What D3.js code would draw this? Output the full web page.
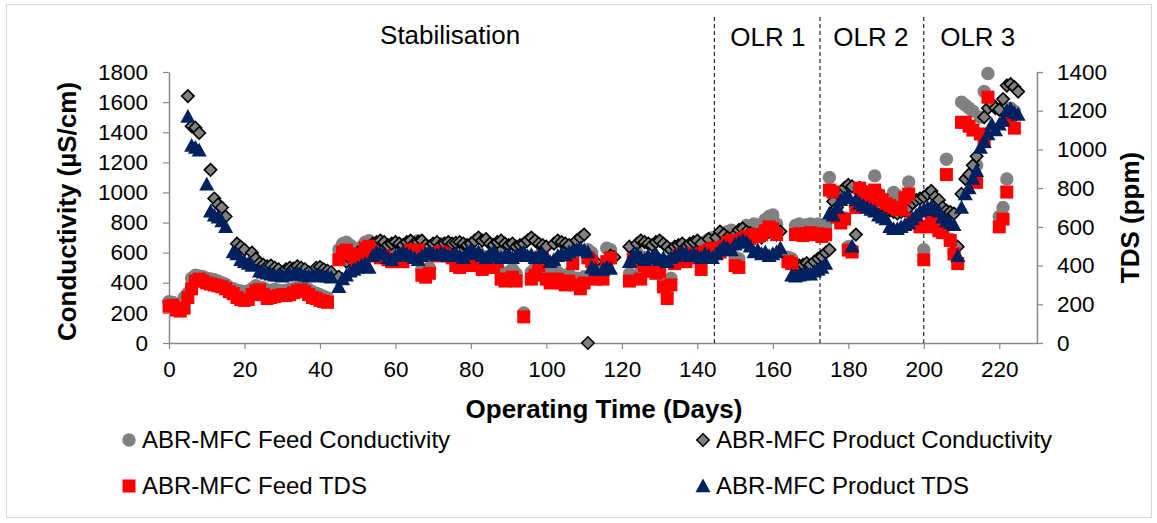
<!DOCTYPE html>
<html>
<head>
<meta charset="utf-8">
<script src="https://cdn.jsdelivr.net/npm/d3@7"></script>
<style>
  html, body { margin: 0; padding: 0; background: #fff; }
  svg { display: block; font-family: "Liberation Sans", Arial, sans-serif; }
</style>
</head>
<body>
<svg id="chart" width="1157" height="523"></svg>
<script>
// ABR-MFC monitoring: conductivity (µS/cm, left axis) and TDS (ppm, right axis) vs operating day

const xTicks = [0, 20, 40, 60, 80, 100, 120, 140, 160, 180, 200, 220];
const condTicks = [0, 200, 400, 600, 800, 1000, 1200, 1400, 1600, 1800];
const tdsTicks = [0, 200, 400, 600, 800, 1000, 1200, 1400];

const phaseBounds = [144.5, 172.5, 200];
const phaseLabels = [
  { text: "Stabilisation", day: 74.5 },
  { text: "OLR 1", day: 158.7 },
  { text: "OLR 2", day: 186 },
  { text: "OLR 3", day: 214.3 }
];

const seriesNames = [
  "ABR-MFC Feed Conductivity",
  "ABR-MFC Product Conductivity",
  "ABR-MFC Feed TDS",
  "ABR-MFC Product TDS"
];

// [day, µS/cm]
const feedConductivity = [
  [0,275],[1,270],[3,250],[4,300],[5,330],[6,430],[7,450],[8,445],[9,440],[10,430],[11,425],[12,420],[13,410],[14,400],[15,390],[16,370],[17,360],[18,350],[19,345],[20,340],[21,345],[22,360],[23,380],[24,370],[25,365],[26,340],[27,350],[28,355],[29,350],[30,345],[31,350],[32,355],[33,360],[34,370],[35,375],[36,365],[37,355],[38,340],[39,330],[40,320],[41,310],[42,300],
  [45,620],[46,660],[47,670],[48,650],[49,630],[50,600],[51,640],[52,670],[53,680],[54,650],[55,630],[56,620],[57,630],[58,610],[59,600],[60,610],[61,620],[62,600],[63,640],[64,670],[65,660],[66,680],[67,490],[68,470],[69,500],[70,650],[71,640],[72,660],[73,650],[74,640],[75,630],[76,570],[77,560],[78,580],[79,620],[80,570],[81,580],[82,600],[83,540],[84,570],[85,580],[86,560],[87,600],[88,470],[89,460],[90,470],[91,490],[92,460],[94,200],[96,470],[97,500],[98,570],[99,620],[100,470],[101,450],[102,460],[103,470],[104,450],[105,430],[106,460],[107,580],[108,430],[109,400],[110,440],[111,620],[112,600],[113,470],[114,490],[115,470],[116,630],[117,620],
  [122,460],[123,610],[124,600],[125,470],[126,570],[127,530],[128,540],[129,520],[130,530],[131,420],[132,340],[133,430],[134,590],[135,640],[136,650],[137,600],[138,630],[139,650],[140,640],[141,550],[142,670],[143,690],[144,700],[145,690],[146,680],[147,720],[148,740],[149,750],[150,570],[151,560],[152,760],[153,780],[154,770],[155,790],[156,780],[157,790],[158,820],[159,840],[160,850],[161,790],
  [164,570],[165,560],[166,780],[167,790],[168,780],[169,785],[170,790],[171,780],[172,790],[173,770],[174,780],[175,1100],[176,1010],[177,840],[178,800],[179,830],[180,640],[181,620],[182,900],[183,1030],[184,1010],[185,990],[186,910],[187,1110],[188,990],[189,960],[190,930],[191,920],[192,1000],[193,980],[194,900],[195,970],[196,1070],[197,830],[198,800],[199,780],[200,620],[201,780],[202,820],[203,840],[204,760],[205,740],[206,1220],[207,690],[208,600],[209,540],[210,1600],[211,1580],[212,1560],[213,1540],[214,1180],[215,1500],[216,1670],[217,1790],[220,840],[221,900],[222,1090],[223,1560],[224,1540]
];

// [day, µS/cm]
const productConductivity = [
  [5,1640],[6,1440],[7,1430],[8,1395],[11,1150],[12,960],[13,920],[14,900],[15,840],[18,660],[19,640],[20,620],[22,600],[23,560],[24,530],[25,520],[26,510],[27,515],[28,500],[29,490],[30,470],[31,490],[32,500],[33,495],[34,510],[35,500],[36,490],[37,470],[39,500],[40,505],[41,490],[42,480],[43,470],[45,440],
  [47,540],[48,560],[49,580],[50,600],[51,610],[52,630],[53,640],[54,660],[55,670],[56,680],[57,670],[58,650],[59,660],[60,670],[61,660],[62,650],[63,670],[64,680],[65,660],[66,670],[67,680],[68,650],[69,640],[70,660],[71,670],[72,650],[73,660],[74,670],[75,660],[76,665],[77,670],[78,660],[79,650],[80,660],[81,680],[82,700],[83,680],[84,690],[85,660],[86,650],[87,670],[88,680],[89,660],[90,650],[91,660],[92,640],[93,650],[94,660],[95,680],[96,700],[97,680],[98,660],[99,650],[100,640],[102,660],[103,680],[104,670],[105,660],[106,650],[108,680],[109,700],[110,720],[111,0],[112,560],[113,540],[117,580],[118,570],
  [122,640],[124,660],[125,680],[126,670],[127,660],[128,650],[129,670],[130,680],[131,660],[132,640],[133,620],[134,640],[135,650],[136,660],[137,640],[138,660],[139,670],[140,680],[141,660],[143,690],[145,700],[146,740],[147,720],[148,700],[150,720],[151,750],[152,760],[153,740],[154,730],[155,720],[156,710],[157,700],[158,720],[159,740],[160,730],[161,720],[162,740],
  [166,510],[167,515],[168,520],[169,530],[170,520],[171,540],[172,560],[173,575],[174,600],[175,620],[176,940],[177,900],[178,980],[179,1030],[180,1050],[181,1040],[182,720],[183,1030],[184,990],[185,960],[186,940],[187,930],[188,910],[189,900],[190,890],[191,880],[192,870],[193,860],[194,870],[195,880],[196,900],[197,930],[198,950],[199,960],[200,970],[201,990],[202,1010],[203,970],[204,950],[205,900],[206,880],[207,870],[208,860],[209,640],[210,990],[211,1090],[212,1120],[213,1180],[214,1240],[215,1380],[216,1500],[217,1560],[218,1590],[219,1560],[220,1550],[221,1620],[222,1710],[223,1720],[224,1700],[225,1670]
];

// [day, ppm]
const feedTDS = [
  [0,190],[1,195],[2,170],[3,165],[4,180],[5,235],[6,280],[7,320],[8,330],[9,320],[10,310],[11,305],[12,300],[13,295],[14,290],[15,280],[16,265],[17,255],[18,235],[19,225],[20,220],[21,225],[22,250],[23,270],[24,275],[25,250],[26,230],[27,235],[28,240],[29,245],[30,250],[31,245],[32,250],[33,260],[34,270],[35,275],[36,265],[37,250],[38,235],[39,230],[40,220],[41,215],[42,210],
  [45,430],[46,470],[47,480],[48,460],[49,440],[50,420],[51,460],[52,490],[53,500],[54,470],[55,450],[56,440],[57,450],[58,430],[59,420],[60,430],[61,440],[62,420],[63,460],[64,480],[65,470],[66,480],[67,350],[68,340],[69,360],[70,460],[71,450],[72,470],[73,460],[74,450],[75,440],[76,400],[77,390],[78,410],[79,440],[80,400],[81,410],[82,420],[83,380],[84,400],[85,410],[86,390],[87,420],[88,330],[89,320],[90,330],[91,340],[92,320],[94,135],[96,330],[97,350],[98,400],[99,440],[100,330],[101,310],[102,320],[103,330],[104,310],[105,300],[106,320],[107,410],[108,300],[109,280],[110,310],[111,440],[112,420],[113,330],[114,340],[115,330],[116,420],[117,440],
  [122,320],[123,430],[124,420],[125,330],[126,400],[127,370],[128,380],[129,360],[130,370],[131,290],[132,230],[133,300],[134,410],[135,450],[136,460],[137,420],[138,440],[139,460],[140,450],[141,380],[142,470],[143,480],[144,490],[145,480],[146,470],[147,500],[148,520],[149,530],[150,400],[151,390],[152,540],[153,550],[154,540],[155,560],[156,550],[157,560],[158,580],[159,600],[160,590],[161,560],
  [164,420],[165,410],[166,560],[167,565],[168,555],[169,560],[170,570],[171,560],[172,565],[173,550],[174,560],[175,790],[176,780],[177,650],[178,620],[179,640],[180,480],[181,470],[182,700],[183,800],[184,780],[185,760],[186,700],[187,790],[188,760],[189,740],[190,720],[191,710],[192,700],[193,690],[194,690],[195,750],[196,770],[197,640],[198,620],[199,600],[200,430],[201,600],[202,630],[203,650],[204,580],[205,570],[206,870],[207,530],[208,460],[209,410],[210,1140],[211,1140],[212,1120],[213,1100],[214,830],[215,1080],[216,1040],[217,1270],[220,600],[221,640],[222,780],[223,1150],[224,1110]
];

// [day, ppm]
const productTDS = [
  [5,1170],[6,1020],[7,1010],[8,995],[10,820],[11,680],[12,660],[13,650],[14,630],[15,600],[17,470],[18,460],[19,430],[20,420],[21,410],[22,400],[24,370],[25,365],[26,360],[27,355],[28,350],[29,350],[30,345],[31,350],[32,355],[33,355],[34,360],[35,355],[36,350],[37,345],[38,350],[39,355],[40,350],[41,345],[42,345],[43,340],[45,290],
  [46,330],[47,350],[48,370],[49,380],[50,390],[51,400],[52,410],[53,390],[54,450],[55,470],[56,465],[57,460],[58,440],[59,430],[60,450],[61,460],[62,470],[63,460],[64,450],[65,440],[66,430],[67,450],[68,460],[69,470],[70,460],[71,455],[72,465],[73,460],[74,450],[75,455],[76,460],[77,450],[78,440],[79,470],[80,480],[81,460],[82,470],[83,450],[84,440],[85,460],[86,470],[87,450],[88,440],[89,450],[90,460],[91,440],[92,450],[93,460],[94,470],[95,450],[96,455],[97,440],[98,450],[99,460],[100,440],[101,420],[102,430],[103,450],[104,460],[105,455],[106,470],[107,480],[108,480],[109,490],[110,480],[111,470],[112,390],[113,380],[115,380],[116,390],[117,385],
  [122,420],[123,450],[124,460],[125,440],[126,430],[127,450],[128,440],[129,460],[130,430],[131,440],[132,420],[133,440],[134,450],[135,460],[136,470],[137,460],[138,450],[139,460],[140,450],[141,440],[142,460],[143,450],[144,440],[145,460],[146,480],[147,500],[148,490],[149,480],[150,510],[151,520],[152,530],[153,520],[154,500],[155,470],[156,480],[157,460],[158,470],[159,450],[160,460],[161,470],[162,490],
  [165,350],[166,345],[167,350],[168,355],[169,360],[170,355],[171,370],[172,380],[173,390],[174,410],[175,670],[176,660],[177,700],[178,740],[179,750],[180,760],[181,500],[182,740],[183,720],[184,710],[185,700],[186,690],[187,680],[188,660],[189,650],[190,640],[191,600],[192,590],[193,590],[194,600],[195,610],[196,620],[197,640],[198,660],[199,680],[200,690],[201,700],[202,705],[203,690],[204,680],[205,650],[206,630],[207,620],[208,610],[209,450],[210,700],[211,770],[212,800],[213,850],[214,890],[215,1010],[216,1040],[217,1080],[218,1130],[219,1100],[220,1130],[221,1150],[222,1200],[223,1210],[224,1190],[225,1180]
];

const svg = d3.select("#chart");
const plot = { left: 169, right: 1037, top: 72, bottom: 343 };

const x = d3.scaleLinear().domain([0, 230]).range([plot.left, plot.right]);
const yCond = d3.scaleLinear().domain([0, 1800]).range([plot.bottom, plot.top]);
const yTDS = d3.scaleLinear().domain([0, 1400]).range([plot.bottom, plot.top]);

const axisColor = "#898989";
const tickFont = 22.5;

// outer frame
svg.append("rect")
  .attr("x", 6.5).attr("y", 4.5)
  .attr("width", 1145).attr("height", 513)
  .attr("fill", "#fff").attr("stroke", "#d9d9d9").attr("stroke-width", 1);

function styleAxis(g) {
  g.selectAll("path.domain").attr("stroke", axisColor).attr("stroke-width", 1.5);
  g.selectAll(".tick line").attr("stroke", axisColor).attr("stroke-width", 1.2);
  g.selectAll(".tick text")
    .attr("fill", "#000")
    .style("font-size", tickFont + "px")
    .style("font-family", "'Liberation Sans', Arial, sans-serif");
}

// bottom axis
svg.append("g")
  .attr("transform", `translate(0,${plot.bottom})`)
  .call(d3.axisBottom(x).tickValues(xTicks).tickSize(6).tickSizeOuter(0).tickPadding(12).tickFormat(d3.format("d")))
  .call(styleAxis);

// left axis
svg.append("g")
  .attr("transform", `translate(${plot.left},0)`)
  .call(d3.axisLeft(yCond).tickValues(condTicks).tickSize(6).tickSizeOuter(0).tickPadding(15).tickFormat(d3.format("d")))
  .call(styleAxis);

// right axis
svg.append("g")
  .attr("transform", `translate(${plot.right},0)`)
  .call(d3.axisRight(yTDS).tickValues(tdsTicks).tickSize(6).tickSizeOuter(0).tickPadding(14).tickFormat(d3.format("d")))
  .call(styleAxis);

// phase boundaries
svg.append("g").selectAll("line")
  .data(phaseBounds)
  .join("line")
  .attr("x1", d => x(d)).attr("x2", d => x(d))
  .attr("y1", 17).attr("y2", plot.bottom)
  .attr("stroke", "#000").attr("stroke-width", 1)
  .attr("stroke-dasharray", "4,3");

svg.append("g").selectAll("text")
  .data(phaseLabels)
  .join("text")
  .attr("x", d => x(d.day))
  .attr("y", (d, i) => i === 0 ? 44 : 46)
  .attr("text-anchor", "middle")
  .style("font-size", "26px")
  .attr("fill", "#000")
  .text(d => d.text);

// axis titles
svg.append("text")
  .attr("transform", `translate(${76},${211.5}) rotate(-90)`)
  .attr("text-anchor", "middle")
  .style("font-size", "26px").style("font-weight", "bold")
  .text("Conductivity (µS/cm)");

svg.append("text")
  .attr("transform", `translate(${1139},${217.5}) rotate(-90)`)
  .attr("text-anchor", "middle")
  .style("font-size", "26px").style("font-weight", "bold")
  .text("TDS (ppm)");

svg.append("text")
  .attr("x", 604).attr("y", 418)
  .attr("text-anchor", "middle")
  .style("font-size", "26px").style("font-weight", "bold")
  .text("Operating Time (Days)");

// marker shapes
const markers = {
  circle: "M6.7,0A6.7,6.7 0 1,1 -6.7,0A6.7,6.7 0 1,1 6.7,0Z",
  diamond: "M0,-6.2L6.2,0L0,6.2L-6.2,0Z",
  square: "M-6.5,-6.5h13v13h-13Z",
  triangle: "M0,-7.6L7.5,6.2L-7.5,6.2Z"
};

const layers = [
  { data: feedConductivity, y: yCond, path: markers.circle, fill: "#808080", stroke: "none", sw: 0 },
  { data: productConductivity, y: yCond, path: markers.diamond, fill: "#808080", stroke: "#000", sw: 1.6 },
  { data: feedTDS, y: yTDS, path: markers.square, fill: "#ff0000", stroke: "none", sw: 0 },
  { data: productTDS, y: yTDS, path: markers.triangle, fill: "#002060", stroke: "none", sw: 0 }
];

layers.forEach(L => {
  svg.append("g").selectAll("path")
    .data(L.data)
    .join("path")
    .attr("transform", d => `translate(${x(d[0])},${L.y(d[1])})`)
    .attr("d", L.path)
    .attr("fill", L.fill)
    .attr("stroke", L.stroke)
    .attr("stroke-width", L.sw)
    .attr("stroke-linejoin", "miter");
});

// legend
const legendItems = [
  { name: seriesNames[0], layer: layers[0], x: 129, y: 440 },
  { name: seriesNames[1], layer: layers[1], x: 703, y: 440 },
  { name: seriesNames[2], layer: layers[2], x: 129, y: 486 },
  { name: seriesNames[3], layer: layers[3], x: 703, y: 486 }
];

const lg = svg.append("g").selectAll("g")
  .data(legendItems)
  .join("g")
  .attr("transform", d => `translate(${d.x},${d.y})`);

lg.append("path")
  .attr("d", d => d.layer.path)
  .attr("fill", d => d.layer.fill)
  .attr("stroke", d => d.layer.stroke)
  .attr("stroke-width", d => d.layer.sw);

lg.append("text")
  .attr("x", 13).attr("y", 0).attr("dy", "0.35em")
  .style("font-size", "24px")
  .attr("fill", "#000")
  .text(d => d.name);
</script>
</body>
</html>
